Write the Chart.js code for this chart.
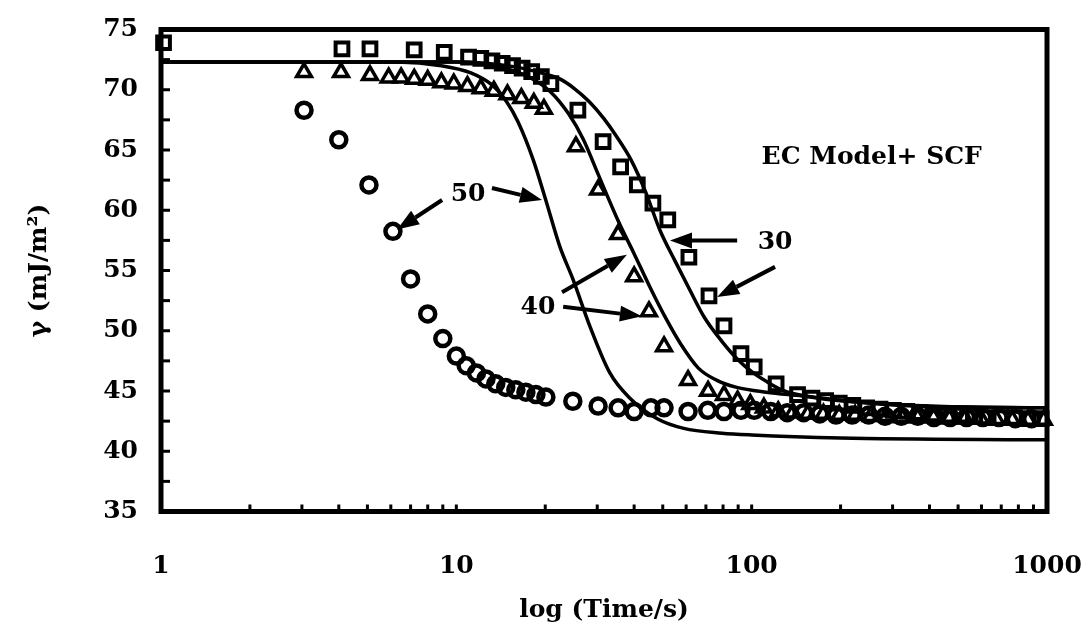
<!DOCTYPE html>
<html><head><meta charset="utf-8">
<script src="https://cdn.jsdelivr.net/npm/chart.js@4/dist/chart.umd.min.js"></script>
<style>html,body{margin:0;padding:0;background:#fff;} #wrap{width:1083px;height:635px;}</style>
</head><body><div id="wrap"><canvas id="c" width="1083" height="635"></canvas></div>
<script>
// ---- data ----
const xTickVals = [1, 10, 100, 1000];
const xTickLabels = ['1', '10', '100', '1000'];
const yTickVals = [35, 40, 45, 50, 55, 60, 65, 70, 75];

// measured points, 30 (squares)
const sqT = [1.02, 4.1, 5.1, 7.2, 9.1, 11.0, 12.1, 13.2, 14.3, 15.5, 16.7, 18.0, 19.4, 20.9, 25.8, 31.4, 36.0, 41.0, 46.3, 52.0, 61.3, 71.7, 80.6, 92, 102, 121, 143, 160, 178, 198, 220, 245, 272, 302, 335, 372, 413, 459, 510, 566, 629, 698, 775, 860, 955];
const sqV = [73.9, 73.4, 73.4, 73.3, 73.1, 72.7, 72.6, 72.4, 72.2, 72.0, 71.8, 71.5, 71.1, 70.5, 68.3, 65.7, 63.6, 62.1, 60.6, 59.2, 56.1, 52.9, 50.4, 48.1, 47.0, 45.6, 44.7, 44.4, 44.2, 44.0, 43.8, 43.6, 43.5, 43.4, 43.3, 43.2, 43.1, 43.0, 43.0, 42.9, 42.8, 42.8, 42.8, 42.7, 42.7];
// measured points, 40 (triangles)
const triT = [3.05, 4.07, 5.1, 5.9, 6.5, 7.2, 8.0, 8.9, 9.8, 10.9, 12.1, 13.4, 14.9, 16.6, 18.3, 19.8, 25.4, 30.2, 35.3, 40.0, 44.9, 50.5, 60.9, 71.2, 80.6, 89.6, 99, 110, 123, 138, 155, 175, 198, 224, 253, 286, 323, 365, 413, 467, 528, 597, 675, 763, 862, 975];
const triV = [71.45, 71.45, 71.2, 71.0, 71.0, 70.9, 70.8, 70.6, 70.5, 70.3, 70.1, 69.9, 69.6, 69.3, 68.9, 68.4, 65.3, 61.7, 58.0, 54.5, 51.6, 48.7, 45.9, 45.0, 44.65, 44.2, 43.9, 43.6, 43.3, 43.2, 43.1, 43.1, 43.0, 43.0, 42.9, 42.9, 42.8, 42.8, 42.8, 42.7, 42.7, 42.7, 42.6, 42.6, 42.6, 42.6];
// measured points, 50 (circles)
const cirT = [3.05, 4.0, 5.06, 6.1, 7.0, 8.0, 9.0, 10.0, 10.8, 11.7, 12.6, 13.6, 14.7, 15.9, 17.2, 18.6, 20.1, 24.8, 30.2, 35.3, 40.0, 45.6, 50.5, 60.9, 71, 80.6, 92, 102, 116, 132, 150, 170, 193, 219, 249, 283, 321, 365, 414, 470, 534, 606, 688, 781, 887];
const cirV = [68.3, 65.85, 62.1, 58.25, 54.3, 51.4, 49.35, 47.9, 47.1, 46.5, 46.0, 45.6, 45.3, 45.1, 44.9, 44.7, 44.5, 44.15, 43.75, 43.6, 43.3, 43.6, 43.6, 43.3, 43.4, 43.3, 43.4, 43.4, 43.3, 43.2, 43.2, 43.1, 43.0, 43.0, 43.0, 42.9, 42.9, 42.9, 42.8, 42.8, 42.8, 42.8, 42.8, 42.7, 42.7];

// model curves (EC Model + SCF)
const m30T = [1, 10, 15.8, 20, 22.4, 25.1, 28.2, 31.6, 34.7, 39, 43.6, 49, 55, 61.7, 69.2, 79.4, 89, 100, 112, 129, 158, 219, 324, 562, 1000];
const m30V = [72.3, 72.3, 71.9, 71.3, 70.9, 70.1, 69.0, 67.6, 66.2, 64.2, 61.6, 58.3, 55.8, 53.4, 51.1, 49.1, 47.7, 46.6, 45.8, 45.0, 44.5, 44.1, 43.8, 43.65, 43.6];
const m40T = [1, 10, 14.1, 17.8, 20.9, 24, 26.9, 30.2, 35.5, 39.8, 45.7, 51.3, 57.5, 66, 76, 89, 112, 148, 224, 398, 1000];
const m40V = [72.3, 72.3, 71.9, 71.0, 69.8, 68.0, 65.9, 63.0, 59.0, 56.5, 53.4, 51.0, 48.9, 46.9, 45.9, 45.3, 44.9, 44.6, 44.1, 43.75, 43.6];
const m50T = [1, 6.3, 8.9, 11.2, 13.2, 14.8, 16.2, 18.2, 20.0, 22.4, 24.8, 28.4, 33.1, 38.7, 47.9, 58.9, 79.4, 100, 200, 1000];
const m50V = [72.3, 72.3, 72.0, 71.4, 70.4, 69.0, 67.3, 64.2, 61.0, 57.0, 54.3, 50.3, 46.5, 44.4, 42.7, 41.9, 41.5, 41.35, 41.1, 40.95];

// annotations (data coordinates)
const noteText = ['50', '40', '30', 'EC Model+ SCF'];
const noteT = [10.96, 18.9, 120, 255];
const noteV = [61.3, 51.9, 57.3, 64.4];
const arrowFromT = [8.95, 13.2, 89.3, 120, 22.8, 23.0];
const arrowFromV = [60.85, 61.85, 57.5, 55.3, 53.2, 52.0];
const arrowToT = [6.30, 19.5, 52.9, 76.4, 37.8, 42.5];
const arrowToV = [58.4, 60.85, 57.5, 52.8, 56.3, 51.2];

const pts = (t, v) => t.map((x, i) => ({ x: x, y: v[i] }));
const FONT = "'DejaVu Serif', serif";

const framePlugin = {
  id: 'frame',
  afterDraw(chart) {
    const { ctx, chartArea: a, scales: { x, y } } = chart;
    ctx.save();
    ctx.strokeStyle = '#000';
    ctx.lineWidth = 3;
    for (let v = 35; v <= 75; v += 2.5) {
      const py = y.getPixelForValue(v);
      ctx.beginPath(); ctx.moveTo(a.left, py); ctx.lineTo(a.left + 9, py); ctx.stroke();
    }
    for (let d = 1; d < 1000; d *= 10) {
      for (let k = 2; k <= 10; k++) {
        const px = x.getPixelForValue(k * d);
        ctx.beginPath(); ctx.moveTo(px, a.bottom); ctx.lineTo(px, a.bottom - 7); ctx.stroke();
      }
    }
    ctx.lineWidth = 5;
    ctx.strokeRect(a.left, a.top, a.right - a.left, a.bottom - a.top);
    ctx.restore();
  }
};

const notePlugin = {
  id: 'notes',
  afterDatasetsDraw(chart) {
    const { ctx, scales: { x, y } } = chart;
    ctx.save();
    ctx.fillStyle = '#000';
    ctx.strokeStyle = '#000';
    ctx.textAlign = 'center';
    ctx.textBaseline = 'middle';
    noteText.forEach((s, i) => {
      ctx.font = 'bold ' + (i === 3 ? 25 : 25) + 'px ' + FONT;
      ctx.fillText(s, x.getPixelForValue(noteT[i]), y.getPixelForValue(noteV[i]));
    });
    arrowFromT.forEach((t, i) => {
      const x1 = x.getPixelForValue(t), y1 = y.getPixelForValue(arrowFromV[i]);
      const x2 = x.getPixelForValue(arrowToT[i]), y2 = y.getPixelForValue(arrowToV[i]);
      const ang = Math.atan2(y2 - y1, x2 - x1);
      const hl = 22, hw = 8;
      const bx = x2 - hl * Math.cos(ang), by = y2 - hl * Math.sin(ang);
      ctx.lineWidth = 4;
      ctx.beginPath(); ctx.moveTo(x1, y1); ctx.lineTo(bx, by); ctx.stroke();
      ctx.beginPath();
      ctx.moveTo(x2, y2);
      ctx.lineTo(bx + hw * Math.sin(ang), by - hw * Math.cos(ang));
      ctx.lineTo(bx - hw * Math.sin(ang), by + hw * Math.cos(ang));
      ctx.closePath(); ctx.fill();
    });
    ctx.restore();
  }
};

const lineDs = (t, v) => ({
  type: 'line', data: pts(t, v), borderColor: '#000', borderWidth: 3.5,
  pointRadius: 0, fill: false, cubicInterpolationMode: 'monotone', showLine: true
});
const ptDs = (t, v, style, r, bw) => ({
  type: 'scatter', data: pts(t, v), showLine: false, pointStyle: style,
  pointRadius: r, borderWidth: bw, borderColor: '#000',
  backgroundColor: 'rgba(0,0,0,0)', clip: false
});

new Chart(document.getElementById('c'), {
  data: {
    datasets: [
      lineDs(m30T, m30V), lineDs(m40T, m40V), lineDs(m50T, m50V),
      ptDs(sqT, sqV, 'rect', 9, 4),
      ptDs(triT, triV, 'triangle', 8.5, 3.5),
      ptDs(cirT, cirV, 'circle', 7.5, 4.5)
    ]
  },
  options: {
    responsive: false, devicePixelRatio: 1, animation: false,
    layout: { padding: { left: 0, top: 29.5, right: 36, bottom: 0 } },
    plugins: { legend: { display: false }, tooltip: { enabled: false } },
    scales: {
      x: {
        type: 'logarithmic', min: 1, max: 1000, position: 'bottom',
        afterBuildTicks: s => { s.ticks = xTickVals.map(v => ({ value: v })); },
        afterFit: s => { s.height = 123.5; s.paddingLeft = 0; s.paddingRight = 0; },
        grid: { display: false, drawTicks: false }, border: { display: false },
        ticks: {
          autoSkip: false, maxRotation: 0, padding: 40, color: '#000',
          font: { family: FONT, size: 25, weight: 'bold' },
          callback: (v) => { const i = xTickVals.indexOf(v); return i >= 0 ? xTickLabels[i] : ''; }
        },
        title: { display: true, text: 'log (Time/s)', color: '#000',
          font: { family: FONT, size: 25, weight: 'bold' }, padding: { top: 0, bottom: 10 } }
      },
      y: {
        type: 'linear', min: 35, max: 75,
        afterBuildTicks: s => { s.ticks = yTickVals.map(v => ({ value: v })); },
        afterFit: s => { s.width = 161; s.paddingTop = 0; s.paddingBottom = 0; },
        grid: { display: false, drawTicks: false }, border: { display: false },
        ticks: { padding: 23, color: '#000', font: { family: FONT, size: 25, weight: 'bold' } },
        title: { display: true, text: 'γ (mJ/m²)', color: '#000',
          font: { family: FONT, size: 25, weight: 'bold' }, padding: { top: 24, bottom: 0 } }
      }
    }
  },
  plugins: [framePlugin, notePlugin]
});
</script></body></html>
